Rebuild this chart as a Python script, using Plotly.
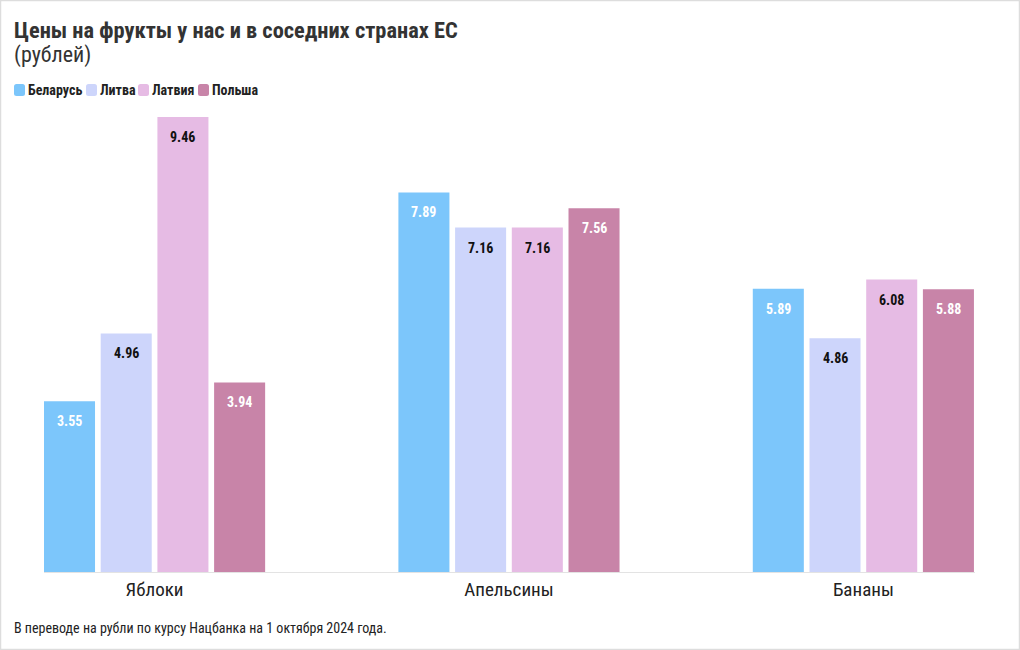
import plotly.graph_objects as go

categories = ["Яблоки", "Апельсины", "Бананы"]
countries = ["Беларусь", "Литва", "Латвия", "Польша"]
belarus = [3.55, 7.89, 5.89]
lithuania = [4.96, 7.16, 4.86]
latvia = [9.46, 7.16, 6.08]
poland = [3.94, 7.56, 5.88]
series = [belarus, lithuania, latvia, poland]

colors = ["#7cc6fb", "#cdd5fb", "#e6bbe4", "#c884a8"]
label_colors = ["#ffffff", "#111111", "#111111", "#ffffff"]

FONT = "Roboto Condensed, Liberation Sans Narrow, Roboto, sans-serif"

W, H = 1020, 650
ml, mr, mt, mb = 44, 45, 110, 78
pw, ph = W - ml - mr, H - mt - mb


def px_x(px):
    return (px - ml) / pw


def px_y(py):
    return 1 - (py - mt) / ph


def rounded_rect(x0, y0, x1, y1, r):
    pts = [
        f"M {px_x(x0 + r)},{px_y(y0)}",
        f"L {px_x(x1 - r)},{px_y(y0)}",
        f"Q {px_x(x1)},{px_y(y0)} {px_x(x1)},{px_y(y0 + r)}",
        f"L {px_x(x1)},{px_y(y1 - r)}",
        f"Q {px_x(x1)},{px_y(y1)} {px_x(x1 - r)},{px_y(y1)}",
        f"L {px_x(x0 + r)},{px_y(y1)}",
        f"Q {px_x(x0)},{px_y(y1)} {px_x(x0)},{px_y(y1 - r)}",
        f"L {px_x(x0)},{px_y(y0 + r)}",
        f"Q {px_x(x0)},{px_y(y0)} {px_x(x0 + r)},{px_y(y0)} Z",
    ]
    return " ".join(pts)


fig = go.Figure()
for name, vals, c in zip(countries, series, colors):
    fig.add_trace(go.Bar(
        x=categories, y=vals, name=name, marker_color=c,
        marker_line_width=0, hoverinfo="x+y+name", showlegend=False,
    ))

slot = 56.7
for i, (vals, lc) in enumerate(zip(series, label_colors)):
    for cat, v in zip(categories, vals):
        fig.add_annotation(
            x=cat, y=v, xref="x", yref="y", text=f"<b>{v:.2f}</b>",
            showarrow=False, xshift=(i - 1.5) * slot, yshift=-20,
            font=dict(family=FONT, size=14, color=lc),
            xanchor="center", yanchor="middle",
        )

# custom legend
legend_swatch_x = [14, 86, 138, 198]
for name, c, sx in zip(countries, colors, legend_swatch_x):
    fig.add_shape(type="path", xref="paper", yref="paper",
                  path=rounded_rect(sx, 84, sx + 11, 96, 2.5),
                  fillcolor=c, line=dict(width=0))
    fig.add_annotation(xref="paper", yref="paper", x=px_x(sx + 12), y=px_y(90),
                       text=f"<b>{name}</b>", showarrow=False,
                       xanchor="left", yanchor="middle",
                       font=dict(family=FONT, size=14, color="#222222"))

# title, subtitle, footnote
fig.add_annotation(xref="paper", yref="paper", x=px_x(12), y=px_y(30),
                   text="<b>Цены на фрукты у нас и в соседних странах ЕС</b>",
                   showarrow=False, xanchor="left", yanchor="middle",
                   font=dict(family=FONT, size=22.4, color="#333333"))
fig.add_annotation(xref="paper", yref="paper", x=px_x(12), y=px_y(55),
                   text="(рублей)", showarrow=False, xanchor="left", yanchor="middle",
                   font=dict(family=FONT, size=22, color="#333333"))
fig.add_annotation(xref="paper", yref="paper", x=px_x(12), y=px_y(628),
                   text="В переводе на рубли по курсу Нацбанка на 1 октября 2024 года.",
                   showarrow=False, xanchor="left", yanchor="middle",
                   font=dict(family=FONT, size=14, color="#222222"))

# outer border
fig.add_shape(type="rect", xref="paper", yref="paper",
              x0=px_x(0.5), x1=px_x(W - 0.5), y0=px_y(H - 0.5), y1=px_y(0.5),
              line=dict(color="#dddddd", width=1.5), layer="below")

fig.update_layout(
    width=W, height=H,
    margin=dict(l=ml, r=mr, t=mt, b=mb),
    paper_bgcolor="white", plot_bgcolor="white",
    barmode="group", bargap=0.36, bargroupgap=0.10,
    showlegend=False,
    font=dict(family=FONT),
    xaxis=dict(range=[-0.312, 2.315], showline=True, linecolor="#e3e3e3",
               linewidth=1, ticks="", showgrid=False,
               tickfont=dict(family=FONT, size=19, color="#222222")),
    yaxis=dict(range=[0, ph / 48.1], showgrid=False, zeroline=False,
               showticklabels=False, showline=False),
)

fig.write_html("out.html", config={"displayModeBar": False},
               post_script="document.body.style.margin='0';")
